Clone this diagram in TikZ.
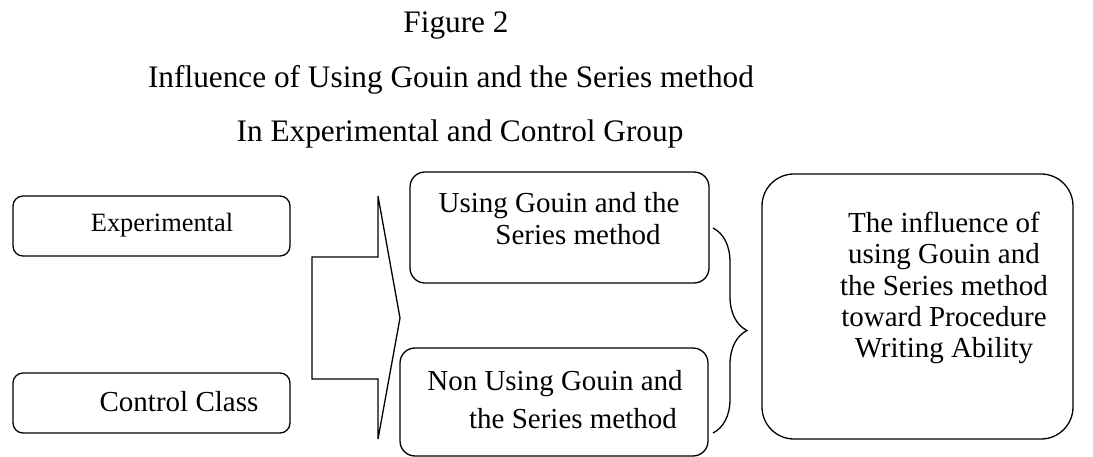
\documentclass[tikz,border=0pt]{standalone}
\usepackage{fontspec}
\setmainfont{Liberation Serif}
\usetikzlibrary{decorations.pathreplacing}
\begin{document}
\begin{tikzpicture}[x=1pt,y=-1pt,
  box/.style={draw, line width=1.3pt, inner sep=0pt},
  headtxt/.style={font=\fontsize{31.3}{34}\selectfont, inner sep=0pt, anchor=base},
  txt/.style={font=\fontsize{29}{31.25}\selectfont, inner sep=0pt, anchor=base},
  smalltxt/.style={font=\fontsize{26.4}{30}\selectfont, inner sep=0pt, anchor=base},
  outline/.style={line width=1.3pt, line join=miter},
]
\useasboundingbox (0,0) rectangle (1093,457);

% title lines
\node[headtxt] (fig)   at (456,33)  {Figure 2};
\node[headtxt] (title) at (451,88)  {Influence of Using Gouin and the Series method};
\node[headtxt] (sub)   at (460,142) {In Experimental and Control Group};

% group boxes on the left
\node[box, rounded corners=10pt, minimum width=277pt, minimum height=60pt] (exp)  at (151.5,226) {};
\node[box, rounded corners=10pt, minimum width=277pt, minimum height=60pt] (ctrl) at (151.5,403) {};
\node[smalltxt] (expT)  at (162,232) {Experimental};
\node[txt]      (ctrlT) at (179,411) {Control Class};

% treatment boxes
\node[box, rounded corners=15pt, minimum width=299pt, minimum height=111pt] (use)    at (559.5,227.5) {};
\node[box, rounded corners=15pt, minimum width=308pt, minimum height=108pt] (nonuse) at (554,402) {};
\node[txt] (useA) at (559,213) {Using Gouin and the};
\node[txt] (useB) at (578,245) {Series method};
\node[txt] (nonA) at (555,390) {Non Using Gouin and};
\node[txt] (nonB) at (573,428) {the Series method};

% outcome box
\node[box, rounded corners=32pt, minimum width=311pt, minimum height=265pt] (result) at (917.5,306.5) {};
\node[txt, anchor=center, align=center] (resT) at (944,288)
  {The influence of\\using Gouin and\\the Series method\\toward Procedure\\Writing Ability};

% bracket with chevron joining the two groups
\coordinate (k1) at (312,257);
\coordinate (k2) at (378,257);
\coordinate (k3) at (378,196);
\coordinate (k4) at (400,318);
\coordinate (k5) at (378,439);
\coordinate (k6) at (378,379);
\coordinate (k7) at (312,379);
\draw[outline] (k1) -- (k2) -- (k3) -- (k4) -- (k5) -- (k6) -- (k7) -- cycle;

% brace gathering the treatments
\coordinate (bt) at (713,228);
\coordinate (bb) at (713,433);
\draw[outline, decorate, decoration={brace, amplitude=34pt}] (bt) -- (bb);
\end{tikzpicture}
\end{document}
